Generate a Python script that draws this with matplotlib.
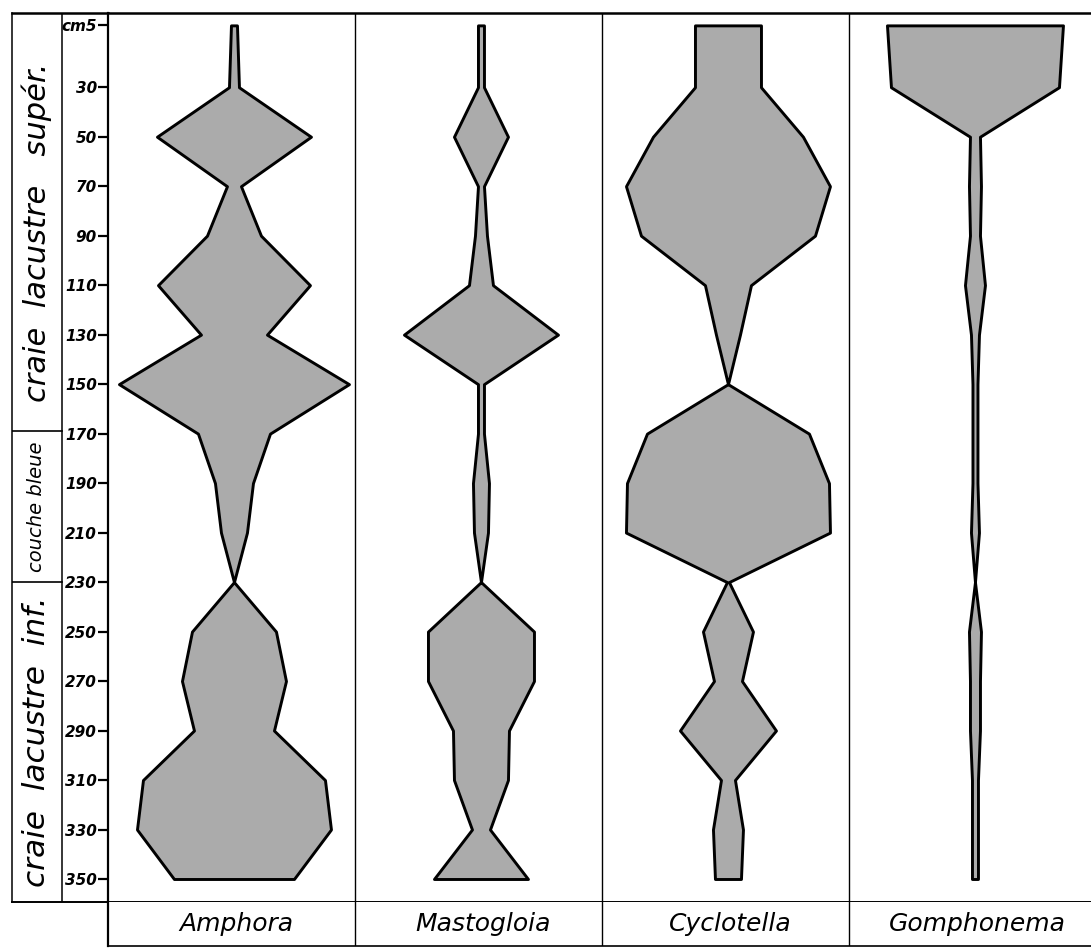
import numpy as np
import matplotlib
matplotlib.use('Agg')
from matplotlib import pyplot as plt

# depth levels (cm) and their labels on the scale
depths = [5, 30, 50, 70, 90, 110, 130, 150, 170, 190, 210, 230, 250, 270, 290, 310, 330, 350]
depth_labels = ['cm5'] + [str(d) for d in depths[1:]]

taxa = ['Amphora', 'Mastogloia', 'Cyclotella', 'Gomphonema']

# half-width of each frequency profile at every depth (247 = one full column)
amphora = [3, 5, 77, 7, 27, 76, 33, 115, 36, 19, 13, 0, 42, 52, 40, 91, 97, 60]
mastogloia = [3, 3, 27, 3, 6, 12, 77, 3, 3, 8, 7, 0, 53, 53, 28, 27, 9, 47]
cyclotella = [33, 33, 75, 102, 87, 23, 12, 0, 81, 101, 102, 1, 25, 14, 48, 7, 15, 13]
gomphonema = [88, 84, 5, 6, 5, 10, 4, 2.5, 2.5, 2.5, 4, 0, 6, 5, 5, 3, 3, 3]
profiles = [amphora, mastogloia, cyclotella, gomphonema]

strata = ['craie  lacustre   supér.', 'couche bleue', 'craie  lacustre  inf.']
strata_top = [0, 169, 230]
strata_base = [169, 230, 359.3]

W, H = 1091, 949
COL = 247.0


def rect(x0, y0, x1, y1):
    return [x0 / W, 1 - y1 / H, (x1 - x0) / W, (y1 - y0) / H]


fig = plt.figure(figsize=(W / 100, H / 100), dpi=100)
fig.patch.set_facecolor('white')

# stratigraphy column + scale column
sax = fig.add_axes(rect(12, 13, 108, 902))
sax.set_xlim(0, 96)
sax.set_ylim(strata_base[-1], strata_top[0])
sax.set_facecolor('none')
sax.set_xticks([])
sax.set_yticks([])
sax.axvline(50, color='black', lw=1.1)
for b in strata_base[:-1]:
    sax.plot([0, 50], [b, b], color='black', lw=1.2)
sizes = [22, 14, 22.5]
shifts = [4, 0, 0]
for name, t, b, fs, dy in zip(strata, strata_top, strata_base, sizes, shifts):
    sax.text(25, (t + b) / 2 + dy, name, rotation=90, ha='center', va='center',
             fontsize=fs, style='italic')
sax.spines['right'].set_visible(False)
sax.spines['left'].set_linewidth(1.1)
sax.spines['top'].set_linewidth(1.8)
sax.spines['bottom'].set_linewidth(1.4)

# profiles
ax = fig.add_axes(rect(108, 13, 1091, 902))
ax.set_xlim(0, (W - 108) / COL)
ax.set_ylim(strata_base[-1], strata_top[0])
for i, hw in enumerate(profiles):
    c = i + 0.51
    hw = np.array(hw) / COL
    ax.fill_betweenx(depths, c - hw, c + hw, facecolor='#ababab', edgecolor='black',
                     linewidth=2.1)
for x in [1, 2, 3]:
    ax.axvline(x, color='black', lw=1.0)
ax.set_xticks([])
ax.set_yticks(depths, depth_labels)
ax.tick_params(axis='y', direction='out', length=7, width=1.6, pad=1, labelsize=11)
for lab in ax.get_yticklabels():
    lab.set_fontweight('bold')
    lab.set_fontstyle('italic')
ax.spines['right'].set_visible(False)
ax.spines['left'].set_linewidth(1.6)
ax.spines['top'].set_linewidth(1.8)
ax.spines['bottom'].set_linewidth(1.4)

# taxon names
bax = fig.add_axes(rect(108, 902, 1091, 946))
bax.set_xlim(0, (W - 108) / COL)
bax.set_ylim(0, 1)
bax.set_xticks([])
bax.set_yticks([])
for i, name in enumerate(taxa):
    bax.text(i + 0.52, 0.5, name, ha='center', va='center', fontsize=18, style='italic')
for x in [1, 2, 3]:
    bax.axvline(x, color='black', lw=1.0)
bax.spines['right'].set_visible(False)
bax.spines['top'].set_visible(False)
bax.spines['left'].set_linewidth(1.6)
bax.spines['bottom'].set_linewidth(1.2)

fig.savefig('out.png', dpi=100)
